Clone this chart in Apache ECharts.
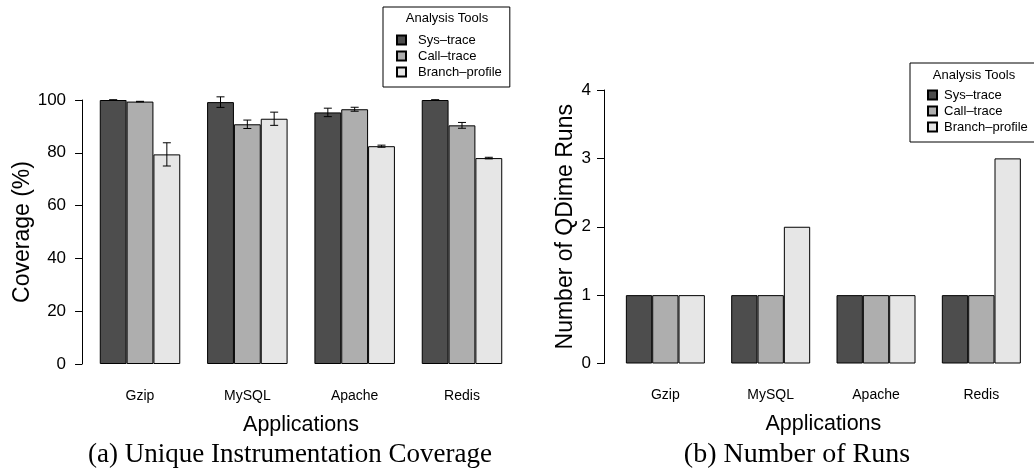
<!DOCTYPE html>
<html>
<head>
<meta charset="utf-8">
<script src="https://cdn.jsdelivr.net/npm/echarts@6/dist/echarts.min.js"></script>
<style>
  html, body { margin: 0; padding: 0; background: #fff; }
  #chart { width: 1034px; height: 475px; }
</style>
</head>
<body>
<div id="chart"></div>
<script>
const apps = ['Gzip', 'MySQL', 'Apache', 'Redis'];
const tools = ['Sys\u2013trace', 'Call\u2013trace', 'Branch\u2013profile'];
const toolColors = ['#4d4d4d', '#aeaeae', '#e6e6e6'];

// (a) coverage in %, with error bar half-heights
const coverageSys = [100, 99.2, 95.3, 100];
const coverageCall = [99.4, 90.8, 96.5, 90.4];
const coverageBranch = [79.4, 92.9, 82.5, 78.0];
const errSys = [0.1, 2.0, 1.6, 0.1];
const errCall = [0.1, 1.6, 0.75, 1.1];
const errBranch = [4.4, 2.5, 0.4, 0.3];

// (b) number of QDime runs
const runsSys = [1, 1, 1, 1];
const runsCall = [1, 1, 1, 1];
const runsBranch = [1, 2, 1, 3];

const coverage = [coverageSys, coverageCall, coverageBranch];
const coverageErr = [errSys, errCall, errBranch];
const runs = [runsSys, runsCall, runsBranch];

const FONT = 'Liberation Sans';
const SERIF = 'Liberation Serif';
const BAND = 429.3 / 4;

const errorData = [];
coverage.forEach((vals, t) => {
  vals.forEach((v, i) => errorData.push([i, t, v, coverageErr[t][i]]));
});

const renderError = (params, api) => {
  const cat = api.value(0);
  const tool = api.value(1);
  const v = api.value(2);
  const e = api.value(3);
  const bw = api.size([1, 0])[0] * 0.75 / 3;
  const x = api.coord([cat, 0])[0] + (tool - 1) * bw;
  const yTop = api.coord([cat, v + e])[1];
  const yBot = api.coord([cat, v - e])[1];
  const cap = 4;
  const style = { stroke: '#000', lineWidth: 1 };
  return {
    type: 'group',
    children: [
      { type: 'line', shape: { x1: x, y1: yTop, x2: x, y2: yBot }, style },
      { type: 'line', shape: { x1: x - cap, y1: yTop, x2: x + cap, y2: yTop }, style },
      { type: 'line', shape: { x1: x - cap, y1: yBot, x2: x + cap, y2: yBot }, style }
    ]
  };
};

const catAxis = (gridIndex) => ({
  type: 'category',
  gridIndex,
  data: apps,
  axisLine: { show: false },
  axisTick: { show: false },
  axisLabel: { fontFamily: FONT, fontSize: 14, color: '#000', margin: 25 },
  name: 'Applications',
  nameLocation: 'middle',
  nameGap: 50,
  nameTextStyle: { fontFamily: FONT, fontSize: 21.5, color: '#000' }
});

const valAxis = (gridIndex, max, interval, name, offset, nameGap, margin) => ({
  type: 'value',
  gridIndex,
  min: 0,
  max,
  interval,
  offset,
  splitLine: { show: false },
  axisLine: { show: true, lineStyle: { color: '#000', width: 1 } },
  axisTick: { show: true, length: 7, lineStyle: { color: '#000' } },
  axisLabel: { fontFamily: FONT, fontSize: 17, color: '#000', margin },
  name,
  nameLocation: 'middle',
  nameGap,
  nameTextStyle: { fontFamily: FONT, fontSize: 23, color: '#000' }
});

const barSeries = (vals, t, axisIndex) => ({
  name: tools[t],
  type: 'bar',
  xAxisIndex: axisIndex,
  yAxisIndex: axisIndex,
  data: vals,
  barGap: '0%',
  barCategoryGap: '25%',
  itemStyle: { color: toolColors[t], borderColor: '#000', borderWidth: 1 },
  animation: false
});

const legendBox = (index, left, top, padding) => ({
  show: true,
  orient: 'vertical',
  left,
  top,
  padding,
  itemGap: 0,
  itemWidth: 9,
  itemHeight: 9,
  borderColor: '#000',
  borderWidth: 1,
  backgroundColor: '#fff',
  z: 2,
  data: tools.map(name => ({ name, icon: 'rect' })),
  textStyle: { fontFamily: FONT, fontSize: 13, color: '#000', lineHeight: 16, padding: [0, 0, 0, index === 0 ? 7 : 2] }
});

const chart = echarts.init(document.getElementById('chart'));
chart.setOption({
  animation: false,
  grid: [
    { left: 86.35, top: 100, width: 4 * BAND, height: 264 },
    { left: 612.7, top: 90, width: 4 * BAND, height: 273.5 }
  ],
  xAxis: [catAxis(0), catAxis(1)],
  yAxis: [
    valAxis(0, 100, 20, 'Coverage (%)', 4.3, 48, 16),
    valAxis(1, 4, 1, 'Number of QDime Runs', 8.7, 26, 13)
  ],
  legend: [
    legendBox(0, 383, 7, [25, 8, 7, 13]),
    legendBox(1, 910, 63, [24, 8, 7, 17])
  ],
  graphic: [
    { type: 'text', z: 100, x: 447, y: 18, style: { text: 'Analysis Tools', font: '13px ' + FONT, fill: '#000', align: 'center', verticalAlign: 'middle' } },
    { type: 'text', z: 100, x: 974, y: 75, style: { text: 'Analysis Tools', font: '13px ' + FONT, fill: '#000', align: 'center', verticalAlign: 'middle' } },
    { type: 'text', z: 100, x: 290, y: 455, style: { text: '(a) Unique Instrumentation Coverage', font: '27px ' + SERIF, fill: '#000', align: 'center', verticalAlign: 'middle' } },
    { type: 'text', z: 100, x: 797, y: 455, style: { text: '(b) Number of Runs', font: '28px ' + SERIF, fill: '#000', align: 'center', verticalAlign: 'middle' } }
  ],
  series: [
    barSeries(coverage[0], 0, 0),
    barSeries(coverage[1], 1, 0),
    barSeries(coverage[2], 2, 0),
    {
      type: 'custom',
      xAxisIndex: 0,
      yAxisIndex: 0,
      data: errorData,
      renderItem: renderError,
      clip: false,
      z: 5,
      silent: true
    },
    barSeries(runs[0], 0, 1),
    barSeries(runs[1], 1, 1),
    barSeries(runs[2], 2, 1)
  ]
});
</script>
</body>
</html>
